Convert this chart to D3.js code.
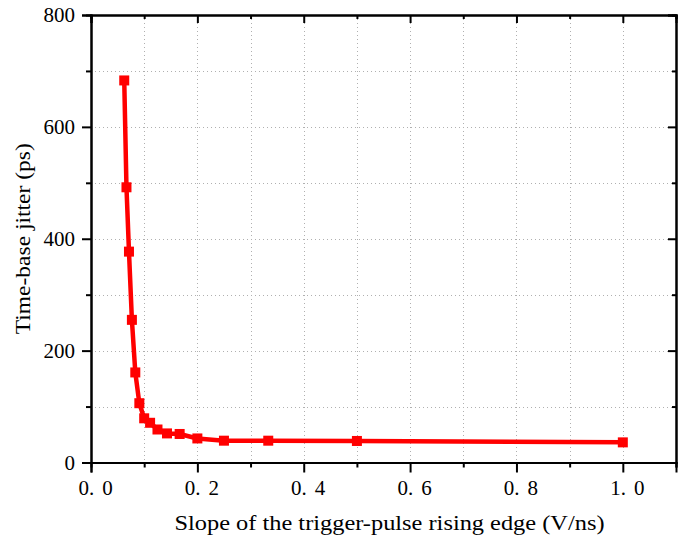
<!DOCTYPE html>
<html>
<head>
<meta charset="utf-8">
<script src="https://cdn.jsdelivr.net/npm/d3@7"></script>
<style>
  html, body { margin: 0; padding: 0; background: #fff; }
  svg { display: block; }
  text { font-family: "Liberation Serif", "Times New Roman", Tinos, "DejaVu Serif", serif; fill: #000; }
</style>
</head>
<body>
<svg id="chart" width="689" height="541"></svg>
<script>
// Data
const slope = [0.0625, 0.0667, 0.0714, 0.0769, 0.0833, 0.0909, 0.1, 0.1111, 0.125, 0.1429, 0.1667, 0.2, 0.25, 0.3333, 0.5, 1.0];
const jitter = [683, 492, 377, 255, 161, 106, 79, 71, 59, 52, 51, 43, 39, 39, 38.5, 36];
const xTickLabels = ["0.0", "0.2", "0.4", "0.6", "0.8", "1.0"];
const xMajorTicks = [0, 0.2, 0.4, 0.6, 0.8, 1.0];
const xMinorTicks = [0.1, 0.3, 0.5, 0.7, 0.9, 1.1];
const yMajorTicks = [0, 200, 400, 600, 800];
const yMinorTicks = [100, 300, 500, 700];
const xGrid = [0.1, 0.2, 0.3, 0.4, 0.5, 0.6, 0.7, 0.8, 0.9, 1.0];
const yGrid = [100, 200, 300, 400, 500, 600, 700];
const xTitle = "Slope of the trigger-pulse rising edge (V/ns)";
const yTitle = "Time-base jitter (ps)";

const W = 689, H = 541;
const m = { left: 91, right: 13, top: 15, bottom: 78.5 };
const svg = d3.select("#chart");

const x = d3.scaleLinear().domain([0, 1.1]).range([m.left, W - m.right]);
const y = d3.scaleLinear().domain([0, 800]).range([H - m.bottom, m.top]);

// Grid
const grid = svg.append("g").attr("stroke", "#b0b0b0").attr("stroke-width", 1).attr("stroke-dasharray", "1,3");
grid.selectAll(".gx").data(xGrid).join("line")
  .attr("x1", d => Math.round(x(d)) + 0.5).attr("x2", d => Math.round(x(d)) + 0.5)
  .attr("y1", y(800)).attr("y2", y(0));
grid.selectAll(".gy").data(yGrid).join("line")
  .attr("y1", d => Math.round(y(d)) + 0.5).attr("y2", d => Math.round(y(d)) + 0.5)
  .attr("x1", x(0)).attr("x2", x(1.1));

// Axes
const fmtX = (d) => xTickLabels[xMajorTicks.indexOf(d)];
const axB = svg.append("g").attr("transform", `translate(0,${y(0)})`)
  .call(d3.axisBottom(x).tickValues(xMajorTicks).tickSize(10).tickPadding(8).tickFormat(fmtX));
svg.append("g").attr("transform", `translate(0,${y(0)})`)
  .call(d3.axisBottom(x).tickValues(xMinorTicks).tickSize(5).tickFormat(""));
const axL = svg.append("g").attr("transform", `translate(${x(0)},0)`)
  .call(d3.axisLeft(y).tickValues(yMajorTicks).tickSize(9).tickPadding(7));
svg.append("g").attr("transform", `translate(${x(0)},0)`)
  .call(d3.axisLeft(y).tickValues(yMinorTicks).tickSize(5).tickFormat(""));
// top & right mirrored, inward ticks
svg.append("g").attr("transform", `translate(0,${y(800)})`)
  .call(d3.axisTop(x).tickValues(xMajorTicks).tickSize(-8).tickFormat(""));
svg.append("g").attr("transform", `translate(0,${y(800)})`)
  .call(d3.axisTop(x).tickValues(xMinorTicks).tickSize(-4).tickFormat(""));
svg.append("g").attr("transform", `translate(${x(1.1)},0)`)
  .call(d3.axisRight(y).tickValues(yMajorTicks).tickSize(-8).tickFormat(""));
svg.append("g").attr("transform", `translate(${x(1.1)},0)`)
  .call(d3.axisRight(y).tickValues(yMinorTicks).tickSize(-4).tickFormat(""));

svg.selectAll("g").attr("font-family", null);
svg.selectAll(".domain").attr("stroke", "#000").attr("stroke-width", 2);
svg.selectAll(".tick line").attr("stroke", "#000").attr("stroke-width", 2);
svg.selectAll(".tick text").attr("font-size", 21).attr("fill", "#000");

// Wide gap after the decimal point, as in the reference
axB.selectAll(".tick text").each(function(d) {
  const t = d3.select(this);
  const s = fmtX(d);
  const parts = s.split(".");
  t.text(null);
  t.append("tspan").text(parts[0] + ".");
  t.append("tspan").attr("dx", 8).text(parts[1]);
  t.attr("dx", 4);
});

// Axis titles
svg.append("text").attr("x", (x(0) + x(1.1)) / 2 + 6).attr("y", 530)
  .attr("text-anchor", "middle").attr("font-size", 22)
  .attr("textLength", 430).attr("lengthAdjust", "spacingAndGlyphs").text(xTitle);
svg.append("text").attr("transform", `translate(30,${(y(0) + y(800)) / 2}) rotate(-90)`)
  .attr("text-anchor", "middle").attr("font-size", 22)
  .attr("textLength", 191).attr("lengthAdjust", "spacingAndGlyphs").text(yTitle);

// Series
const pts = slope.map((s, i) => [s, jitter[i]]);
svg.append("path").datum(pts)
  .attr("fill", "none").attr("stroke", "#ff0000").attr("stroke-width", 4.5)
  .attr("stroke-linejoin", "round")
  .attr("d", d3.line().x(d => x(d[0])).y(d => y(d[1])));
svg.selectAll(".mk").data(pts).join("rect")
  .attr("x", d => x(d[0]) - 5).attr("y", d => y(d[1]) - 5)
  .attr("width", 10).attr("height", 10).attr("fill", "#ff0000");
</script>
</body>
</html>
